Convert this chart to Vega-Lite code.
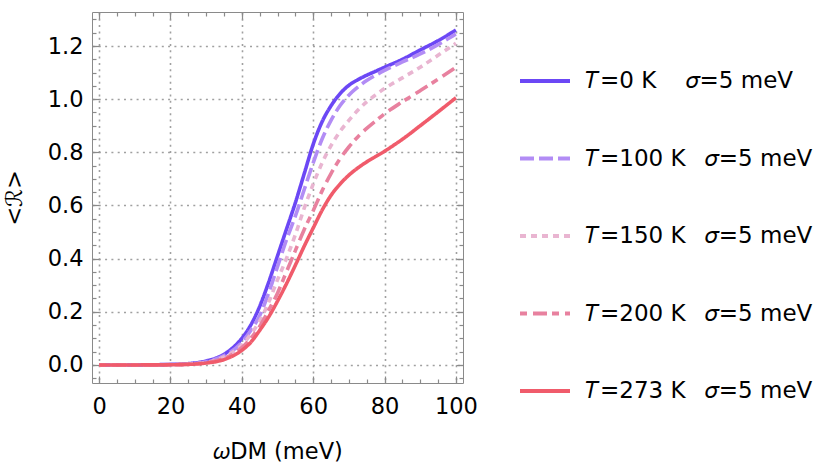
{
  "$schema": "https://vega.github.io/schema/vega-lite/v6.json",
  "width": 371,
  "height": 371,
  "autosize": "none",
  "padding": {"left": 92, "top": 12, "right": 367, "bottom": 85},
  "background": "white",
  "config": {
    "view": {"stroke": "#8a8a8a", "strokeWidth": 1},
    "font": "DejaVu Sans",
    "axis": {"domain": false, "labelFont": "DejaVu Sans", "titleFont": "DejaVu Sans", "labelColor": "black", "titleColor": "black", "labelFontSize": 22.5, "titleFontSize": 22.5, "titleFontWeight": "normal", "tickColor": "#8a8a8a", "tickWidth": 1.2, "gridColor": "#a0a0a0", "gridDash": [2, 4.3], "gridWidth": 1.6},
    "legend": {"labelFont": "DejaVu Sans", "labelFontSize": 23, "labelColor": "black", "padding": 0, "labelLimit": 0}
  },
  "data": {"values": [
    {"w":0,"R":0,"T":"0"},{"w":5,"R":0,"T":"0"},{"w":10,"R":0,"T":"0"},{"w":15,"R":0.0005,"T":"0"},{"w":20,"R":0.002,"T":"0"},{"w":25,"R":0.005,"T":"0"},{"w":30,"R":0.015,"T":"0"},{"w":35,"R":0.04,"T":"0"},{"w":40,"R":0.1,"T":"0"},{"w":42.5,"R":0.15,"T":"0"},{"w":45,"R":0.22,"T":"0"},{"w":47.5,"R":0.31,"T":"0"},{"w":50,"R":0.41,"T":"0"},{"w":52.5,"R":0.51,"T":"0"},{"w":55,"R":0.61,"T":"0"},{"w":57.5,"R":0.72,"T":"0"},{"w":60,"R":0.83,"T":"0"},{"w":62.5,"R":0.915,"T":"0"},{"w":65,"R":0.975,"T":"0"},{"w":67.5,"R":1.02,"T":"0"},{"w":70,"R":1.052,"T":"0"},{"w":72.5,"R":1.073,"T":"0"},{"w":75,"R":1.09,"T":"0"},{"w":77.5,"R":1.105,"T":"0"},{"w":80,"R":1.12,"T":"0"},{"w":85,"R":1.15,"T":"0"},{"w":90,"R":1.185,"T":"0"},{"w":95,"R":1.22,"T":"0"},{"w":100,"R":1.26,"T":"0"},
    {"w":0,"R":0,"T":"100"},{"w":5,"R":0,"T":"100"},{"w":10,"R":0,"T":"100"},{"w":15,"R":0.0004,"T":"100"},{"w":20,"R":0.0015,"T":"100"},{"w":25,"R":0.004,"T":"100"},{"w":30,"R":0.012,"T":"100"},{"w":35,"R":0.035,"T":"100"},{"w":40,"R":0.085,"T":"100"},{"w":42.5,"R":0.13,"T":"100"},{"w":45,"R":0.185,"T":"100"},{"w":47.5,"R":0.27,"T":"100"},{"w":50,"R":0.37,"T":"100"},{"w":52.5,"R":0.47,"T":"100"},{"w":55,"R":0.56,"T":"100"},{"w":57.5,"R":0.66,"T":"100"},{"w":60,"R":0.76,"T":"100"},{"w":62.5,"R":0.85,"T":"100"},{"w":65,"R":0.92,"T":"100"},{"w":67.5,"R":0.975,"T":"100"},{"w":70,"R":1.015,"T":"100"},{"w":72.5,"R":1.045,"T":"100"},{"w":75,"R":1.07,"T":"100"},{"w":77.5,"R":1.09,"T":"100"},{"w":80,"R":1.108,"T":"100"},{"w":85,"R":1.14,"T":"100"},{"w":90,"R":1.17,"T":"100"},{"w":95,"R":1.205,"T":"100"},{"w":100,"R":1.245,"T":"100"},
    {"w":0,"R":0,"T":"150"},{"w":5,"R":0,"T":"150"},{"w":10,"R":0,"T":"150"},{"w":15,"R":0.0003,"T":"150"},{"w":20,"R":0.001,"T":"150"},{"w":25,"R":0.003,"T":"150"},{"w":30,"R":0.01,"T":"150"},{"w":35,"R":0.03,"T":"150"},{"w":40,"R":0.075,"T":"150"},{"w":42.5,"R":0.115,"T":"150"},{"w":45,"R":0.165,"T":"150"},{"w":47.5,"R":0.235,"T":"150"},{"w":50,"R":0.32,"T":"150"},{"w":52.5,"R":0.4,"T":"150"},{"w":55,"R":0.49,"T":"150"},{"w":57.5,"R":0.59,"T":"150"},{"w":60,"R":0.68,"T":"150"},{"w":62.5,"R":0.76,"T":"150"},{"w":65,"R":0.825,"T":"150"},{"w":67.5,"R":0.878,"T":"150"},{"w":70,"R":0.92,"T":"150"},{"w":72.5,"R":0.958,"T":"150"},{"w":75,"R":0.99,"T":"150"},{"w":77.5,"R":1.016,"T":"150"},{"w":80,"R":1.04,"T":"150"},{"w":85,"R":1.08,"T":"150"},{"w":90,"R":1.12,"T":"150"},{"w":95,"R":1.165,"T":"150"},{"w":100,"R":1.21,"T":"150"},
    {"w":0,"R":0,"T":"200"},{"w":5,"R":0,"T":"200"},{"w":10,"R":0,"T":"200"},{"w":15,"R":0.0002,"T":"200"},{"w":20,"R":0.001,"T":"200"},{"w":25,"R":0.003,"T":"200"},{"w":30,"R":0.008,"T":"200"},{"w":35,"R":0.025,"T":"200"},{"w":40,"R":0.065,"T":"200"},{"w":42.5,"R":0.1,"T":"200"},{"w":45,"R":0.145,"T":"200"},{"w":47.5,"R":0.205,"T":"200"},{"w":50,"R":0.27,"T":"200"},{"w":52.5,"R":0.35,"T":"200"},{"w":55,"R":0.43,"T":"200"},{"w":57.5,"R":0.51,"T":"200"},{"w":60,"R":0.58,"T":"200"},{"w":62.5,"R":0.655,"T":"200"},{"w":65,"R":0.72,"T":"200"},{"w":67.5,"R":0.775,"T":"200"},{"w":70,"R":0.82,"T":"200"},{"w":72.5,"R":0.858,"T":"200"},{"w":75,"R":0.89,"T":"200"},{"w":77.5,"R":0.918,"T":"200"},{"w":80,"R":0.945,"T":"200"},{"w":85,"R":0.99,"T":"200"},{"w":90,"R":1.032,"T":"200"},{"w":95,"R":1.075,"T":"200"},{"w":100,"R":1.12,"T":"200"},
    {"w":0,"R":0,"T":"273"},{"w":5,"R":0,"T":"273"},{"w":10,"R":0,"T":"273"},{"w":15,"R":0.0001,"T":"273"},{"w":20,"R":0.0005,"T":"273"},{"w":25,"R":0.002,"T":"273"},{"w":30,"R":0.007,"T":"273"},{"w":35,"R":0.02,"T":"273"},{"w":40,"R":0.055,"T":"273"},{"w":42.5,"R":0.085,"T":"273"},{"w":45,"R":0.13,"T":"273"},{"w":47.5,"R":0.18,"T":"273"},{"w":50,"R":0.24,"T":"273"},{"w":52.5,"R":0.305,"T":"273"},{"w":55,"R":0.375,"T":"273"},{"w":57.5,"R":0.447,"T":"273"},{"w":60,"R":0.515,"T":"273"},{"w":62.5,"R":0.582,"T":"273"},{"w":65,"R":0.638,"T":"273"},{"w":67.5,"R":0.68,"T":"273"},{"w":70,"R":0.714,"T":"273"},{"w":72.5,"R":0.741,"T":"273"},{"w":75,"R":0.764,"T":"273"},{"w":77.5,"R":0.784,"T":"273"},{"w":80,"R":0.804,"T":"273"},{"w":82.5,"R":0.826,"T":"273"},{"w":85,"R":0.849,"T":"273"},{"w":90,"R":0.9,"T":"273"},{"w":95,"R":0.952,"T":"273"},{"w":100,"R":1.005,"T":"273"}
  ]},
  "resolve": {"axis": {"x": "independent", "y": "independent"}},
  "layer": [
    {
      "mark": {"type": "line", "strokeWidth": 3.6, "interpolate": "monotone", "clip": true},
      "encoding": {
        "x": {"field": "w", "type": "quantitative", "scale": {"domain": [-2, 102], "nice": false, "zero": false},
              "axis": {"orient": "bottom", "values": [0, 20, 40, 60, 80, 100], "ticks": false, "grid": true, "labelPadding": 12, "title": "𝜔DM (meV)", "titlePadding": 23}},
        "y": {"field": "R", "type": "quantitative", "scale": {"domain": [-0.068, 1.328], "nice": false, "zero": false},
              "axis": {"orient": "left", "values": [0, 0.2, 0.4, 0.6, 0.8, 1.0, 1.2], "format": ".1f", "ticks": false, "grid": true, "labelPadding": 9, "title": "<ℛ>", "titlePadding": 21}},
        "color": {"field": "T", "type": "nominal", "title": null,
                  "scale": {"domain": ["0", "100", "150", "200", "273"], "range": ["#6b47f5", "#b28cf5", "#e9b5d1", "#e8819f", "#f05b6b"]},
                  "legend": {"orient": "none", "legendX": 426, "legendY": 42, "symbolType": "stroke", "symbolSize": 2500, "symbolStrokeWidth": 4, "rowPadding": 38.5, "labelOffset": 13,
                             "labelExpr": "'𝑇=' + datum.label + ' K' + (datum.label == '0' ? '\u00a0\u00a0\u00a0\u00a0' : '\u00a0\u00a0\u2009') + '𝜎=5 meV'"}},
        "strokeDash": {"field": "T", "type": "nominal", "title": null,
                  "scale": {"domain": ["0", "100", "150", "200", "273"], "range": [[1, 0], [14, 5], [6, 5], [7, 6, 14, 5], [1, 0]]}}
      }
    },
    {
      "mark": {"type": "line", "strokeOpacity": 0},
      "encoding": {
        "x": {"field": "w", "type": "quantitative", "axis": {"orient": "bottom", "values": [0, 20, 40, 60, 80, 100], "labels": false, "grid": false, "tickSize": -7, "title": null}},
        "y": {"field": "R", "type": "quantitative", "axis": {"orient": "left", "values": [0, 0.2, 0.4, 0.6, 0.8, 1.0, 1.2], "labels": false, "grid": false, "tickSize": -7, "title": null}}
      }
    },
    {
      "mark": {"type": "line", "strokeOpacity": 0},
      "encoding": {
        "x": {"field": "w", "type": "quantitative", "axis": {"orient": "bottom", "values": [0,5,10,15,20,25,30,35,40,45,50,55,60,65,70,75,80,85,90,95,100], "labels": false, "grid": false, "tickSize": -4, "title": null}},
        "y": {"field": "R", "type": "quantitative", "axis": {"orient": "left", "values": [-0.05,0,0.05,0.1,0.15,0.2,0.25,0.3,0.35,0.4,0.45,0.5,0.55,0.6,0.65,0.7,0.75,0.8,0.85,0.9,0.95,1.0,1.05,1.1,1.15,1.2,1.25,1.3], "labels": false, "grid": false, "tickSize": -4, "title": null}}
      }
    },
    {
      "mark": {"type": "line", "strokeOpacity": 0},
      "encoding": {
        "x": {"field": "w", "type": "quantitative", "axis": {"orient": "top", "values": [0, 20, 40, 60, 80, 100], "labels": false, "grid": false, "tickSize": -7, "title": null}},
        "y": {"field": "R", "type": "quantitative", "axis": {"orient": "right", "values": [0, 0.2, 0.4, 0.6, 0.8, 1.0, 1.2], "labels": false, "grid": false, "tickSize": -7, "title": null}}
      }
    },
    {
      "mark": {"type": "line", "strokeOpacity": 0},
      "encoding": {
        "x": {"field": "w", "type": "quantitative", "axis": {"orient": "top", "values": [0,5,10,15,20,25,30,35,40,45,50,55,60,65,70,75,80,85,90,95,100], "labels": false, "grid": false, "tickSize": -4, "title": null}},
        "y": {"field": "R", "type": "quantitative", "axis": {"orient": "right", "values": [-0.05,0,0.05,0.1,0.15,0.2,0.25,0.3,0.35,0.4,0.45,0.5,0.55,0.6,0.65,0.7,0.75,0.8,0.85,0.9,0.95,1.0,1.05,1.1,1.15,1.2,1.25,1.3], "labels": false, "grid": false, "tickSize": -4, "title": null}}
      }
    }
  ]
}
